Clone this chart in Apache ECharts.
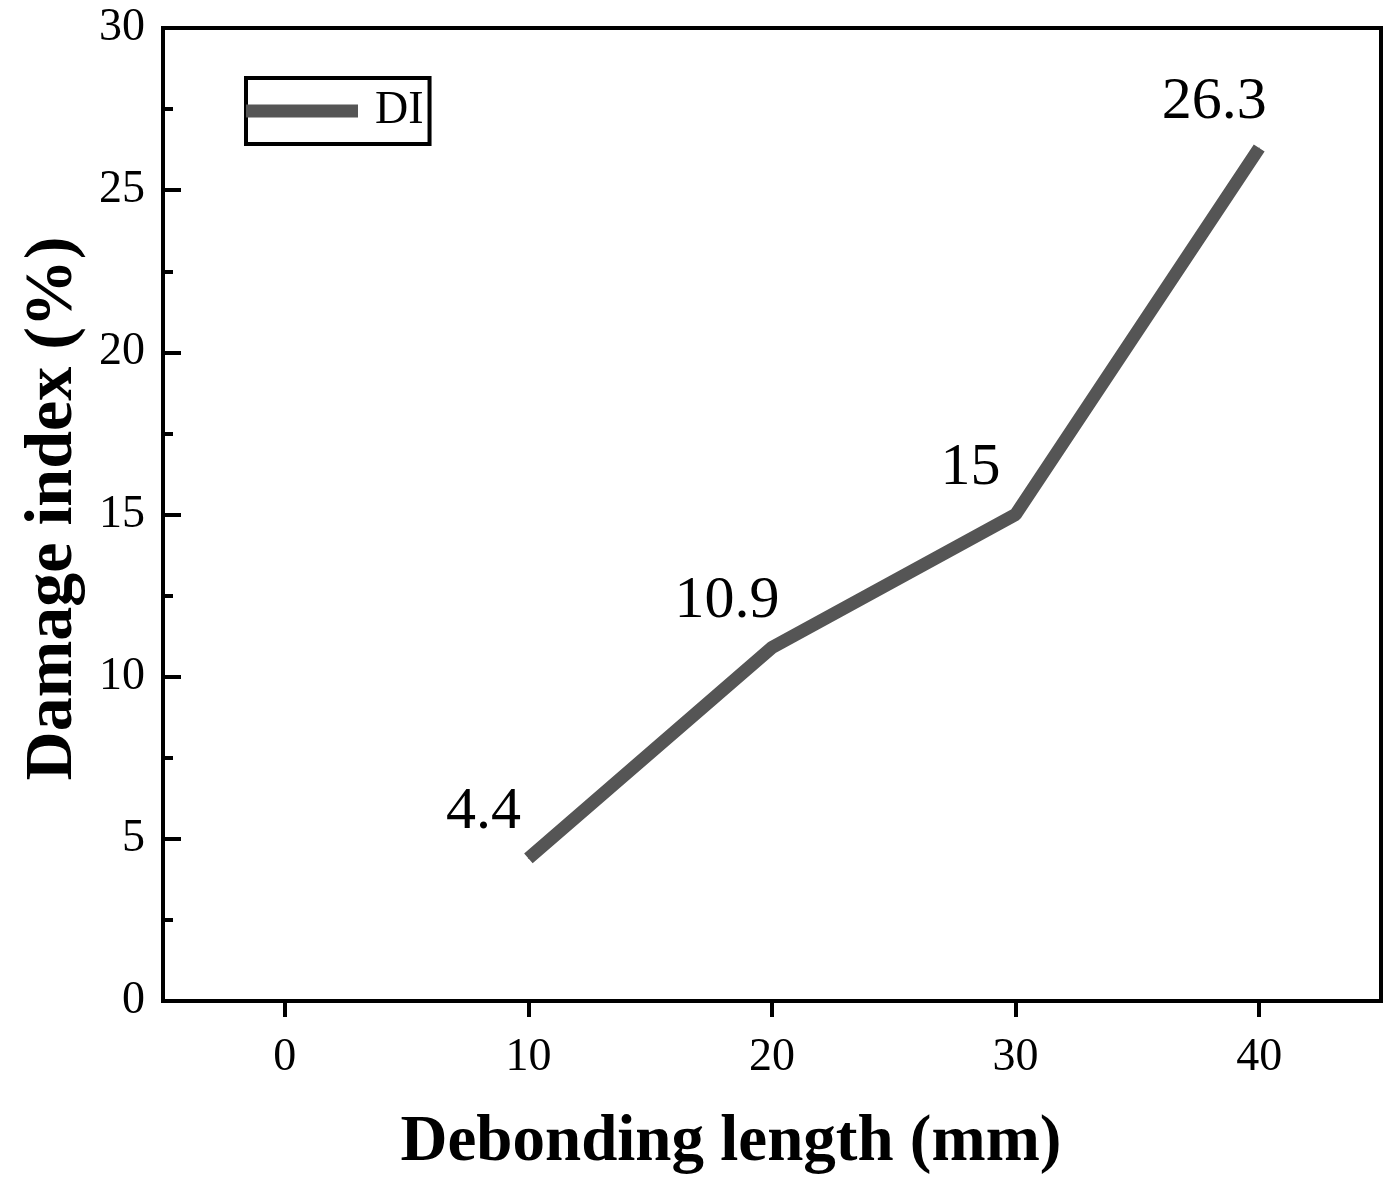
<!DOCTYPE html>
<html>
<head>
<meta charset="utf-8">
<script src="https://cdn.jsdelivr.net/npm/echarts@6/dist/echarts.min.js"></script>
<style>
  html, body { margin: 0; padding: 0; background: #fff; }
  #chart { width: 1399px; height: 1195px; }
</style>
</head>
<body>
<div id="chart"></div>
<script>
const lengths = [10, 20, 30, 40];
const diValues = [4.4, 10.9, 15, 26.3];
const xTicks = [0, 10, 20, 30, 40];

const serif = '"Liberation Serif", "Times New Roman", serif';

const chart = echarts.init(document.getElementById('chart'));
chart.setOption({
  backgroundColor: '#fff',
  animation: false,
  grid: { left: 163, right: 18, top: 28, bottom: 194, show: true, borderColor: '#000', borderWidth: 4, backgroundColor: 'transparent' },
  legend: {
    left: 246, top: 78,
    data: ['DI'],
    icon: 'rect',
    itemWidth: 112, itemHeight: 13,
    borderColor: '#000', borderWidth: 4, borderRadius: 0,
    padding: [10, 6, 10, 0],
    textStyle: { fontFamily: serif, fontSize: 46, color: '#000', padding: [0, 0, 0, 12] }
  },
  xAxis: {
    type: 'value', min: -5, max: 45,
    name: 'Debonding length (mm)', nameLocation: 'middle', nameGap: 110,
    nameTextStyle: { fontFamily: serif, fontSize: 65, fontWeight: 'bold', color: '#000', padding: [0, 82, 0, 0] },
    axisLine: { onZero: false, lineStyle: { color: '#000', width: 4 } },
    axisTick: { inside: false, length: 16, lineStyle: { width: 4, color: '#000' }, customValues: xTicks },
    axisLabel: { margin: 34, fontFamily: serif, fontSize: 46, color: '#000', customValues: xTicks },
    splitLine: { show: false }
  },
  yAxis: {
    type: 'value', min: 0, max: 30, interval: 5,
    name: 'Damage index (%)', nameLocation: 'middle', nameGap: 76, nameRotate: 90,
    nameTextStyle: { fontFamily: serif, fontSize: 68, fontWeight: 'bold', color: '#000', padding: [0, 0, 0, 12] },
    axisLine: { onZero: false, lineStyle: { color: '#000', width: 4 } },
    axisTick: { inside: true, length: 18, lineStyle: { width: 4, color: '#000' } },
    minorTick: { show: true, splitNumber: 2, length: 10, lineStyle: { width: 4, color: '#000' } },
    axisLabel: { margin: 18, fontFamily: serif, fontSize: 46, color: '#000' },
    splitLine: { show: false }
  },
  series: [{
    name: 'DI',
    type: 'line',
    data: lengths.map((x, i) => [x, diValues[i]]),
    symbol: 'circle', symbolSize: 1,
    lineStyle: { color: '#555555', width: 13 },
    itemStyle: { color: '#555555' },
    label: {
      show: true, position: 'inside', offset: [-45, -46],
      fontFamily: serif, fontSize: 60, color: '#000', textBorderWidth: 0
    }
  }]
});
</script>
</body>
</html>
